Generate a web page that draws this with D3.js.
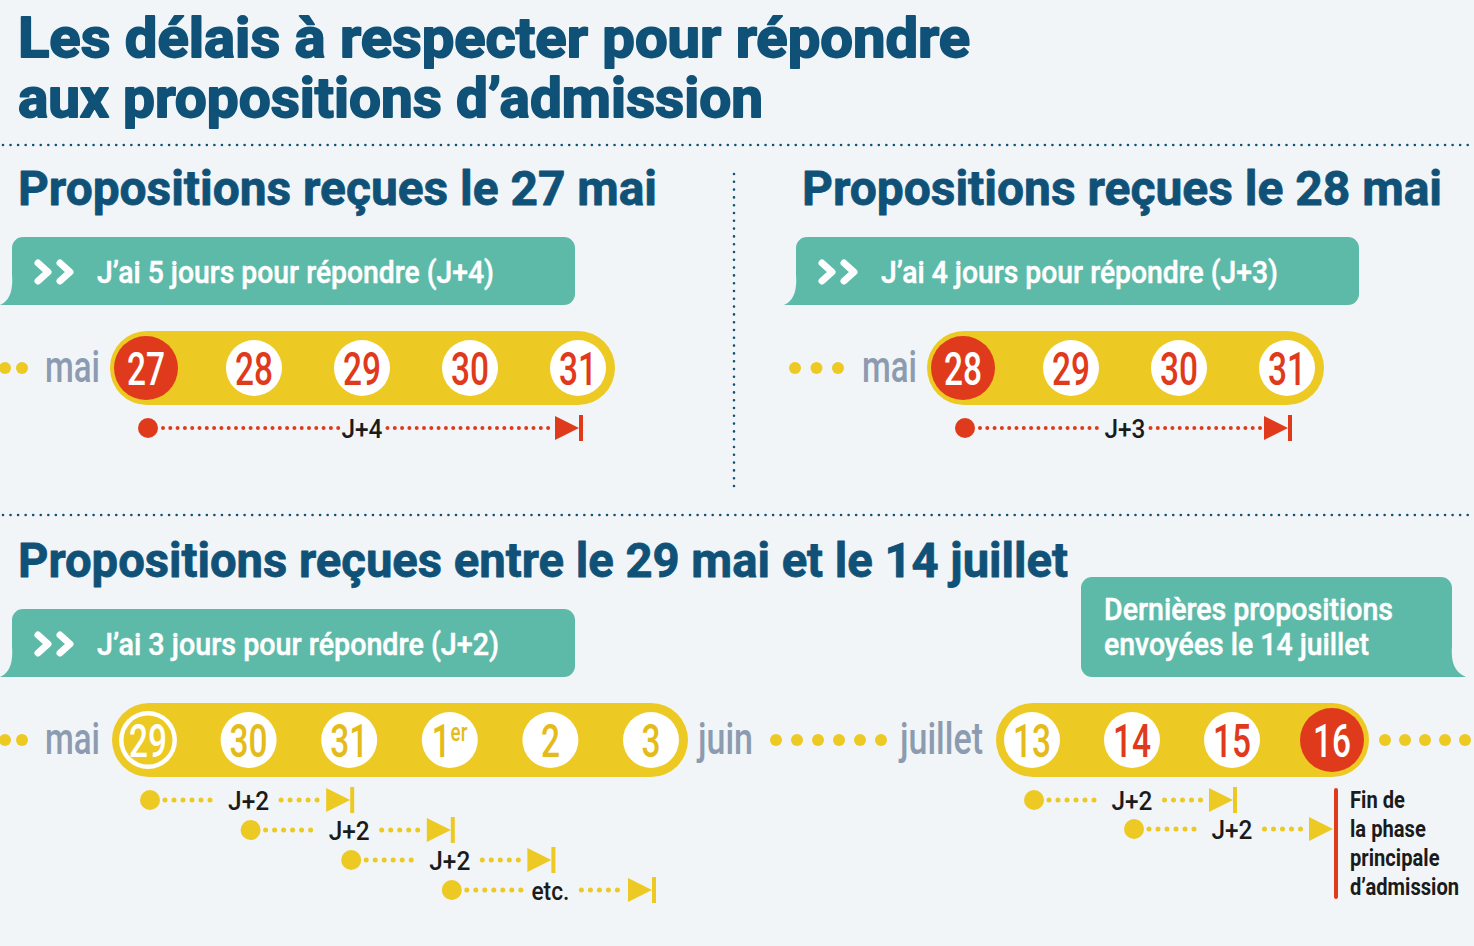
<!DOCTYPE html>
<html>
<head>
<meta charset="utf-8">
<script src="https://cdn.jsdelivr.net/npm/d3@7"></script>
<style>
  body { margin: 0; background: #f1f5f8; }
  svg { display: block; }
</style>
</head>
<body>
<div id="chart"></div>
<script>
// ---- Data ----
const titleLines = ["Les délais à respecter pour répondre", "aux propositions d’admission"];
const headings = ["Propositions reçues le 27 mai", "Propositions reçues le 28 mai",
                  "Propositions reçues entre le 29 mai et le 14 juillet"];
const bubbleTexts = ["J’ai 5 jours pour répondre (J+4)", "J’ai 4 jours pour répondre (J+3)",
                     "J’ai 3 jours pour répondre (J+2)"];
const lastCall = ["Dernières propositions", "envoyées le 14 juillet"];
const monthLabels = ["mai", "juin", "juillet"];

const daysA = ["27", "28", "29", "30", "31"];
const daysB = ["28", "29", "30", "31"];
const daysC = ["29", "30", "31", "1er", "2", "3"];
const daysD = ["13", "14", "15", "16"];

// [from, to, label]
const delaysA = [["27", "31", "J+4"]];
const delaysB = [["28", "31", "J+3"]];
const delaysC = [["29", "31", "J+2"], ["30", "1er", "J+2"], ["31", "2", "J+2"], ["1er", "3", "etc."]];
const delaysD = [["13", "15", "J+2"], ["14", "16", "J+2"]];
const endNote = ["Fin de", "la phase", "principale", "d’admission"];

// ---- Style ----
const W = 1474, H = 946;
const C = {
    bg: "#f1f5f8", blue: "#0f5177", teal: "#5dbaa9", yellow: "#edc924",
    yellowText: "#e4bb1a", red: "#e03a1c", grey: "#8c9bb0", ink: "#1b1b1b"
};
const FONT = "Roboto, 'Open Sans', 'DejaVu Sans', sans-serif";

const svg = d3.select("#chart").append("svg")
    .attr("width", W).attr("height", H)
    .style("background", C.bg)
    .attr("font-family", FONT);

// text helper: widths fitted with textLength (the original face is condensed)
function addText(g, str, x, y, size, weight, fill, width, anchor) {
    const sx = anchor === "middle" ? x - width / 2 : x;
    const t = g.append("text")
        .attr("x", sx).attr("y", y)
        .attr("font-size", size).attr("font-weight", weight)
        .attr("fill", fill)
        .text(str);
    if (width) t.attr("textLength", width).attr("lengthAdjust", "spacingAndGlyphs");
    return t;
}

// heavier look for the big titles
function heavy(t, sw) {
    return t.attr("stroke", t.attr("fill")).attr("stroke-width", sw)
        .attr("stroke-linejoin", "round");
}

function dottedLine(x1, y1, x2, y2, color, sw, step) {
    svg.append("line")
        .attr("x1", x1).attr("y1", y1).attr("x2", x2).attr("y2", y2)
        .attr("stroke", color).attr("stroke-width", sw)
        .attr("stroke-linecap", "round")
        .attr("stroke-dasharray", `0 ${step}`);
}

function dotRow(x0, n, step, y, r) {
    svg.append("g").selectAll("circle")
        .data(d3.range(n))
        .join("circle")
        .attr("cx", i => x0 + i * step)
        .attr("cy", y)
        .attr("r", r)
        .attr("fill", C.yellow);
}

// speech bubble with a tail at the bottom-left or bottom-right
function bubblePath(x, y, w, h, r, side) {
    if (side === "left") {
        return `M${x + r},${y} H${x + w - r} A${r},${r} 0 0 1 ${x + w},${y + r} V${y + h - r}
                A${r},${r} 0 0 1 ${x + w - r},${y + h} H${x - 12}
                Q${x + 2},${y + h - 6} ${x},${y + h - 30} V${y + r} A${r},${r} 0 0 1 ${x + r},${y} Z`;
    }
    return `M${x + r},${y} H${x + w - r} A${r},${r} 0 0 1 ${x + w},${y + r} V${y + h - 30}
            Q${x + w - 2},${y + h - 6} ${x + w + 14},${y + h} H${x + r}
            A${r},${r} 0 0 1 ${x},${y + h - r} V${y + r} A${r},${r} 0 0 1 ${x + r},${y} Z`;
}

function bubble(x, y, w, h, side, lines, textX, baselines, widths, chevrons) {
    const g = svg.append("g");
    g.append("path").attr("d", bubblePath(x, y, w, h, 11, side)).attr("fill", C.teal);
    if (chevrons) {
        const cy = y + h / 2 + 1;
        [x + 26, x + 48].forEach(cx => {
            g.append("polyline")
                .attr("points", `${cx},${cy - 9} ${cx + 10},${cy} ${cx},${cy + 9}`)
                .attr("fill", "none").attr("stroke", "#fff")
                .attr("stroke-width", 7).attr("stroke-linecap", "round")
                .attr("stroke-linejoin", "round");
        });
    }
    lines.forEach((l, i) => heavy(addText(g, l, textX, baselines[i], 32, 500, "#fff", widths[i]), 0.5));
}

// ---- Titles and separators ----
heavy(addText(svg, titleLines[0], 18, 57, 56, 700, C.blue, 952), 1.8);
heavy(addText(svg, titleLines[1], 18, 117, 56, 700, C.blue, 745), 1.8);

dottedLine(3, 145, W, 145, C.blue, 2.6, 7.55);
dottedLine(3, 515, W, 515, C.blue, 2.6, 7.55);
dottedLine(734, 174, 734, 487, C.blue, 2.6, 7.8);

heavy(addText(svg, headings[0], 18, 205, 48, 700, C.blue, 639), 0.8);
heavy(addText(svg, headings[1], 802, 205, 48, 700, C.blue, 640), 0.8);
heavy(addText(svg, headings[2], 18, 577, 48, 700, C.blue, 1050), 0.8);

bubble(12, 237, 563, 68, "left", [bubbleTexts[0]], 97, [283], [397], true);
bubble(796, 237, 563, 68, "left", [bubbleTexts[1]], 881, [283], [397], true);
bubble(12, 609, 563, 68, "left", [bubbleTexts[2]], 97, [655], [402], true);
bubble(1081, 577, 371, 100, "right", lastCall, 1104, [620, 655], [289, 265], false);

// ---- Timelines ----
function timeline(days, range, cy, styleOf) {
    const x = d3.scalePoint().domain(days).range(range);
    const g = svg.append("g");
    g.append("rect")
        .attr("x", x(days[0]) - 36).attr("y", cy - 37)
        .attr("width", x(days[days.length - 1]) - x(days[0]) + 73)
        .attr("height", 74).attr("rx", 37)
        .attr("fill", C.yellow);

    const day = g.selectAll("g.day").data(days).join("g").attr("class", "day");
    day.each(function (d, i) {
        const s = styleOf(d, i);
        const el = d3.select(this);
        el.append("circle").attr("cx", x(d)).attr("cy", cy).attr("r", s.r).attr("fill", s.fill);
        if (s.inner) {
            el.append("circle").attr("cx", x(d)).attr("cy", cy).attr("r", s.r - 4.5).attr("fill", s.inner);
        }
        if (d === "1er") {
            // "1" with superscript "er" in one text element
            const t = el.append("text")
                .attr("transform", `translate(${x(d) - 18},${cy + 17}) scale(0.72,1)`)
                .attr("font-size", 46).attr("font-weight", 500)
                .attr("fill", s.text)
                .text("1");
            t.append("tspan").attr("font-size", 26).attr("dy", -16).text("er");
        } else {
            addText(el, d, x(d), cy + 17, 46, 500, s.text, d.length * 19, "middle");
        }
    });
    return x;
}

function delaySpan(x, row, y, color, dotSW, dotStep, bar) {
    const [from, to, label] = row;
    const x1 = x(from) + 2, x2 = x(to);
    const mid = (x(from) + x(to)) / 2;
    const lw = label === "etc." ? 38 : 41;
    const gap = color === C.red ? 3 : 10;
    const g = svg.append("g");
    const dots = (a, b) => g.append("line")
        .attr("x1", a).attr("y1", y).attr("x2", b).attr("y2", y)
        .attr("stroke", color).attr("stroke-width", dotSW)
        .attr("stroke-linecap", "round").attr("stroke-dasharray", `0 ${dotStep}`);
    dots(x1 + 15, mid - lw / 2 - gap);
    dots(mid + lw / 2 + gap + 2, x2 - 25);
    g.append("circle").attr("cx", x1).attr("cy", y).attr("r", 10).attr("fill", color);
    g.append("path")
        .attr("d", `M${x2 - 23},${y - 12} L${x2 + 1},${y} L${x2 - 23},${y + 12} Z`)
        .attr("fill", color);
    if (bar) {
        g.append("rect").attr("x", x2 + 1).attr("y", y - 13)
            .attr("width", 4).attr("height", 26).attr("fill", color);
    }
    addText(g, label, mid, y + 10, 26, 500, C.ink, lw, "middle");
}

// Section 27 mai
dotRow(5, 2, 17, 368, 6);
addText(svg, monthLabels[0], 45, 382, 44, 500, C.grey, 55);
const xA = timeline(daysA, [146, 578], 368, (d, i) =>
    i === 0 ? { r: 32, fill: C.red, text: "#fff" } : { r: 28, fill: "#fff", text: C.red });
delaysA.forEach(r => delaySpan(xA, r, 428, C.red, 4, 7.3, true));

// Section 28 mai
dotRow(795, 3, 21.5, 368, 6);
addText(svg, monthLabels[0], 862, 382, 44, 500, C.grey, 55);
const xB = timeline(daysB, [963, 1287], 368, (d, i) =>
    i === 0 ? { r: 32, fill: C.red, text: "#fff" } : { r: 28, fill: "#fff", text: C.red });
delaysB.forEach(r => delaySpan(xB, r, 428, C.red, 4, 7.3, true));

// Section 29 mai -> 14 juillet
dotRow(5, 2, 17, 740, 6);
addText(svg, monthLabels[0], 45, 754, 44, 500, C.grey, 55);
const xC = timeline(daysC, [148, 651], 740, (d, i) =>
    i === 0 ? { r: 29, fill: "#fff", inner: C.yellow, text: "#fff" }
            : { r: 28, fill: "#fff", text: C.yellowText });
delaysC.forEach((r, i) => delaySpan(xC, r, 800 + i * 30, C.yellow, 5, 9, true));

addText(svg, monthLabels[1], 698, 754, 44, 500, C.grey, 55);
dotRow(776, 6, 21, 740, 6);
addText(svg, monthLabels[2], 900, 754, 44, 500, C.grey, 83);

const xD = timeline(daysD, [1032, 1332], 740, (d, i) =>
    i === 0 ? { r: 28, fill: "#fff", text: C.yellowText }
    : i === daysD.length - 1 ? { r: 32, fill: C.red, text: "#fff" }
    : { r: 28, fill: "#fff", text: C.red });
dotRow(1385, 5, 20, 740, 6);
delaysD.forEach((r, i) => delaySpan(xD, r, 800 + i * 29, C.yellow, 5, 9, i < delaysD.length - 1));

// End of main phase marker
svg.append("rect")
    .attr("x", xD(daysD[daysD.length - 1]) + 2).attr("y", 788)
    .attr("width", 4).attr("height", 111).attr("rx", 2)
    .attr("fill", C.red);
// condensed by a horizontal scale so the last line stays inside the frame
endNote.forEach((l, i) => {
    svg.append("text")
        .attr("transform", `translate(1350,${808 + i * 29}) scale(0.84,1)`)
        .attr("font-size", 24).attr("font-weight", 700)
        .attr("fill", C.ink)
        .text(l);
});
</script>
</body>
</html>
